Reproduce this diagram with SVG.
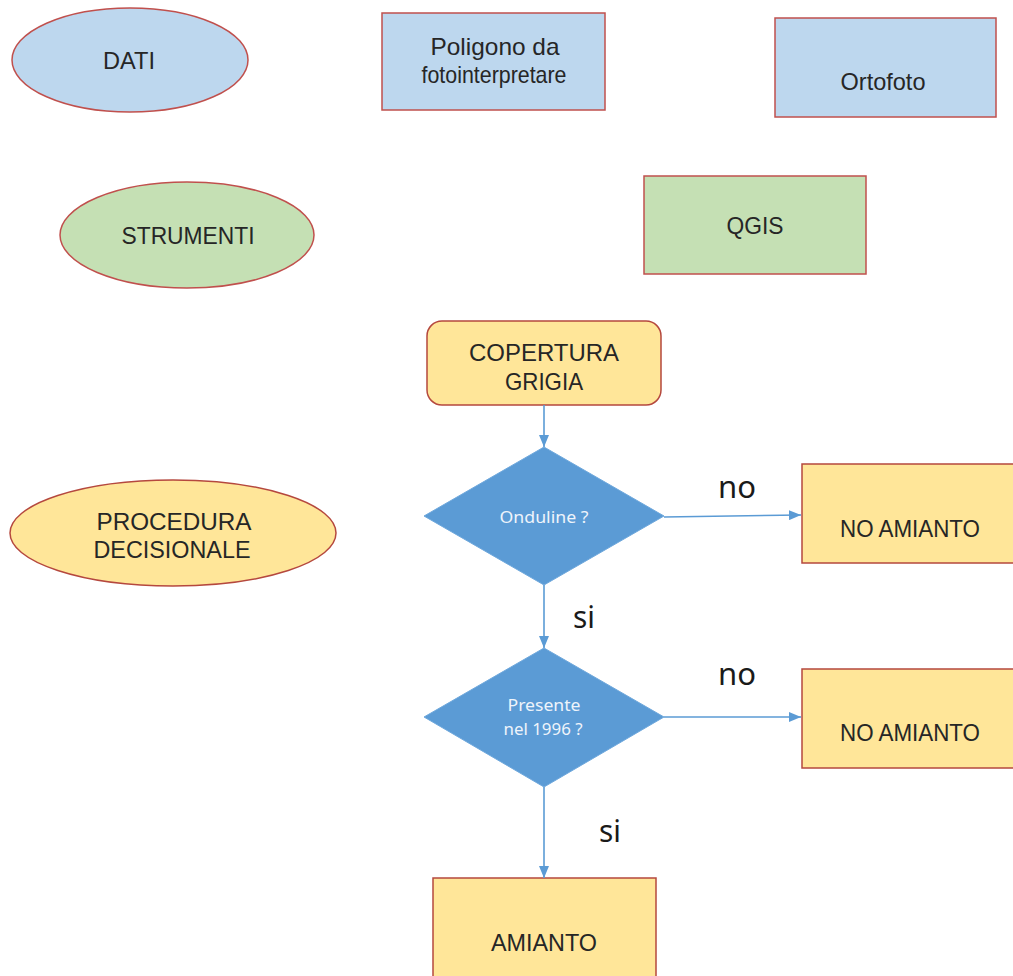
<svg xmlns="http://www.w3.org/2000/svg" width="1013" height="976" viewBox="0 0 1013 976">
<style>
  .blue { fill: #bdd7ee; stroke: #c0504d; stroke-width: 1.5; }
  .green { fill: #c5e0b4; stroke: #c0504d; stroke-width: 1.5; }
  .yellow { fill: #ffe699; stroke: #b5483e; stroke-width: 1.5; }
  .dia { fill: #5b9bd5; stroke: #6fa8dc; stroke-width: 1; }
  .t { font-family: "Liberation Sans", Arial, sans-serif; font-size: 24px; fill: #262626; text-anchor: middle; }
  .dt { font-family: "Noto Sans", "Open Sans", sans-serif; font-size: 17px; fill: #eef4fb; text-anchor: middle; }
  .dt2 { font-family: "Noto Sans", "Open Sans", sans-serif; font-size: 15.5px; fill: #eef4fb; text-anchor: middle; }
  .lbl { font-family: "Noto Sans", "Open Sans", sans-serif; font-size: 30px; fill: #1a1a1a; text-anchor: middle; }
  .conn { stroke: #5b9bd5; stroke-width: 1.6; fill: none; marker-end: url(#arr); }
</style>
<defs>
  <marker id="arr" markerWidth="12" markerHeight="10" refX="12" refY="5" orient="auto" markerUnits="userSpaceOnUse">
    <path d="M0,0 L12,5 L0,10 Z" fill="#5b9bd5"/>
  </marker>
</defs>
<rect width="1013" height="976" fill="#ffffff"/>

<g id="dati">
  <ellipse class="blue" cx="130" cy="60" rx="118" ry="52"/>
  <text class="t" x="129" y="69" textLength="52" lengthAdjust="spacingAndGlyphs">DATI</text>
</g>
<g id="poligono">
  <rect class="blue" x="382" y="13" width="223" height="97"/>
  <text class="t" x="495" y="55" textLength="129" lengthAdjust="spacingAndGlyphs">Poligono da</text>
  <text class="t" x="494" y="83" textLength="145" lengthAdjust="spacingAndGlyphs">fotointerpretare</text>
</g>
<g id="ortofoto">
  <rect class="blue" x="775" y="18" width="221" height="99"/>
  <text class="t" x="883" y="90" textLength="85" lengthAdjust="spacingAndGlyphs">Ortofoto</text>
</g>
<g id="strumenti">
  <ellipse class="green" cx="187" cy="235" rx="127" ry="53"/>
  <text class="t" x="188" y="244" textLength="133" lengthAdjust="spacingAndGlyphs">STRUMENTI</text>
</g>
<g id="qgis">
  <rect class="green" x="644" y="176" width="222" height="98"/>
  <text class="t" x="755" y="234" textLength="57" lengthAdjust="spacingAndGlyphs">QGIS</text>
</g>
<g id="procedura">
  <ellipse class="yellow" cx="173" cy="533" rx="163" ry="53"/>
  <text class="t" x="174" y="530" textLength="155" lengthAdjust="spacingAndGlyphs">PROCEDURA</text>
  <text class="t" x="172" y="558" textLength="157" lengthAdjust="spacingAndGlyphs">DECISIONALE</text>
</g>
<g id="copertura">
  <rect class="yellow" x="427" y="321" width="234" height="84" rx="15" ry="15"/>
  <text class="t" x="544" y="361" textLength="150" lengthAdjust="spacingAndGlyphs">COPERTURA</text>
  <text class="t" x="544" y="390" textLength="78" lengthAdjust="spacingAndGlyphs">GRIGIA</text>
</g>
<g id="onduline">
  <polygon class="dia" points="544,447 664,516 544,585 424,516"/>
  <text class="dt" x="544" y="523" textLength="89" lengthAdjust="spacingAndGlyphs">Onduline ?</text>
</g>
<g id="noamianto1">
  <rect class="yellow" x="802" y="464" width="220" height="99"/>
  <text class="t" x="910" y="537" textLength="140" lengthAdjust="spacingAndGlyphs">NO AMIANTO</text>
</g>
<g id="presente">
  <polygon class="dia" points="544,648 664,717 544,787 424,717"/>
  <text class="dt2" x="544" y="711" textLength="73" lengthAdjust="spacingAndGlyphs">Presente</text>
  <text class="dt2" x="543" y="735" textLength="79" lengthAdjust="spacingAndGlyphs">nel 1996 ?</text>
</g>
<g id="noamianto2">
  <rect class="yellow" x="802" y="669" width="220" height="99"/>
  <text class="t" x="910" y="741" textLength="140" lengthAdjust="spacingAndGlyphs">NO AMIANTO</text>
</g>
<g id="amianto">
  <rect class="yellow" x="433" y="878" width="223" height="110"/>
  <text class="t" x="544" y="951" textLength="106" lengthAdjust="spacingAndGlyphs">AMIANTO</text>
</g>

<g id="connectors">
  <line class="conn" x1="544" y1="405" x2="544" y2="447"/>
  <line class="conn" x1="664" y1="517" x2="801" y2="515"/>
  <line class="conn" x1="544" y1="585" x2="544" y2="648"/>
  <line class="conn" x1="664" y1="717" x2="801" y2="717"/>
  <line class="conn" x1="544" y1="787" x2="544" y2="878"/>
  <text class="lbl" x="737" y="498" textLength="38" lengthAdjust="spacingAndGlyphs">no</text>
  <text class="lbl" x="584" y="628" textLength="22" lengthAdjust="spacingAndGlyphs">si</text>
  <text class="lbl" x="737" y="685" textLength="38" lengthAdjust="spacingAndGlyphs">no</text>
  <text class="lbl" x="610" y="842" textLength="22" lengthAdjust="spacingAndGlyphs">si</text>
</g>
</svg>
